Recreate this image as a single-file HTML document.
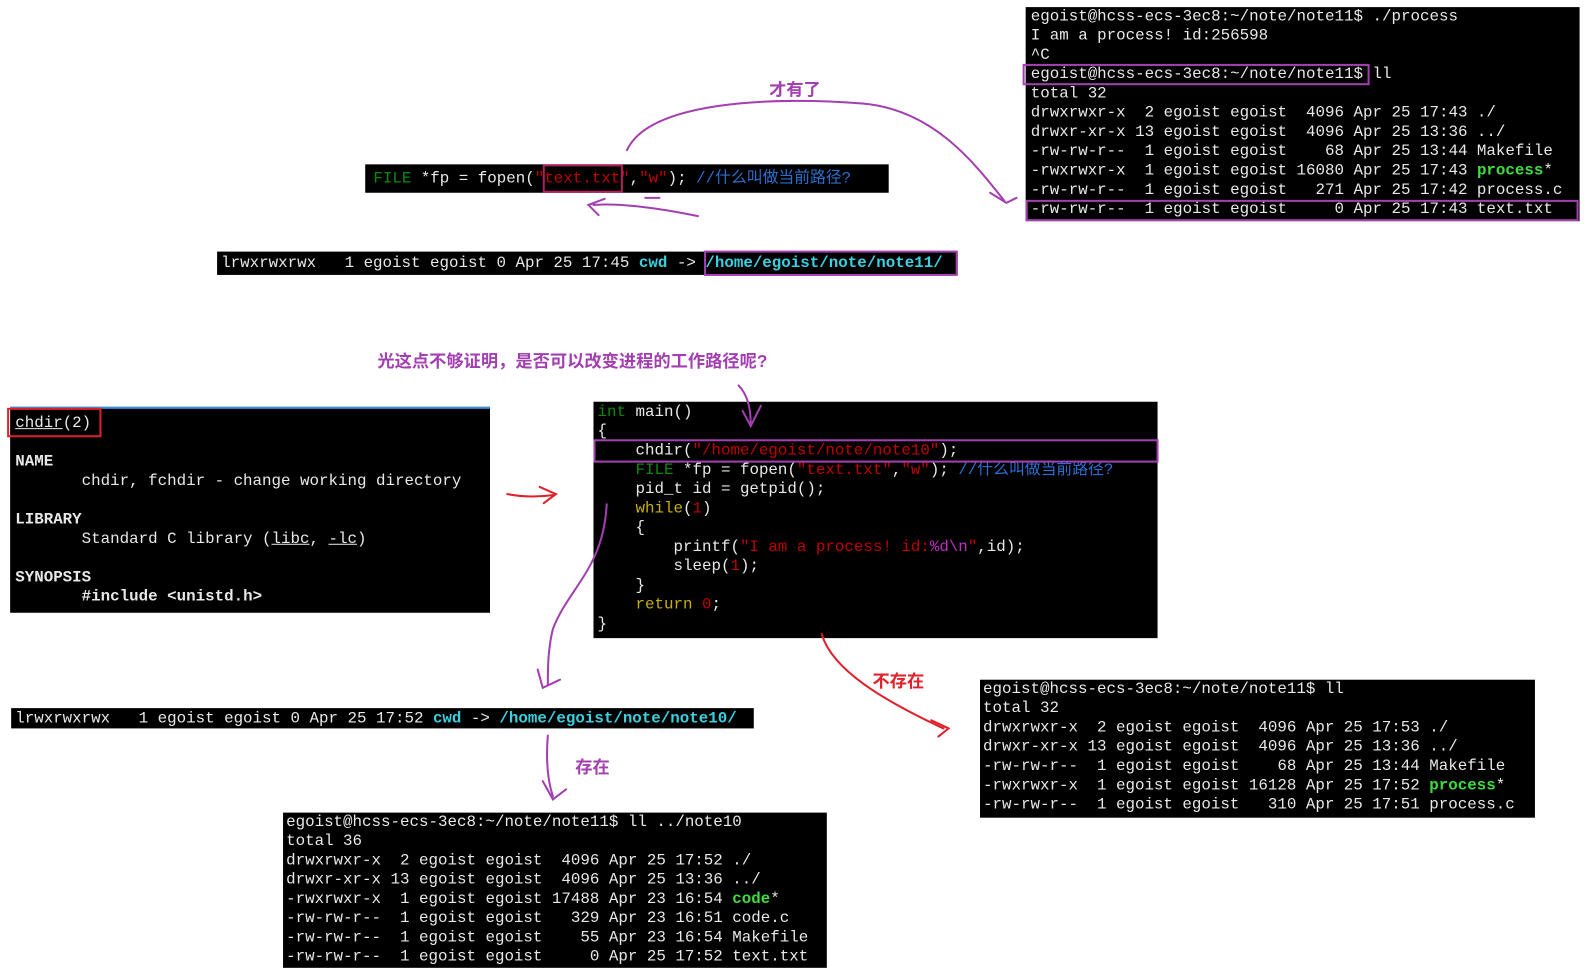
<!DOCTYPE html>
<html><head><meta charset="utf-8"><style>
html,body{margin:0;padding:0;background:#fff;width:1590px;height:973px;overflow:hidden}
#w{position:absolute;left:0;top:0;width:1560px;height:955px;transform:scale(1.0145);transform-origin:0 0}
.t{position:absolute;background:#000;color:#e8e8e8;font-family:"Liberation Mono","Noto Sans CJK SC",monospace;font-size:15.6px;line-height:19px;white-space:pre;box-sizing:border-box}
.b{position:absolute;border:2px solid #a33fb0;box-sizing:border-box}
.r{position:absolute;border:2px solid #e0202a;box-sizing:border-box}
.g{color:#3fdc3f;font-weight:bold}.c{color:#3ad0e0;font-weight:bold}
.gr{color:#0a8a0a}.rd{color:#c00000}.bl{color:#2a6fd0}.y{color:#c8b000}.m{color:#c030c0}
.lab{position:absolute;font-family:"Liberation Sans","Noto Sans CJK SC",sans-serif;font-weight:bold;font-size:17px;white-space:nowrap}
svg{position:absolute;left:0;top:0}
</style></head><body><div id="w">

<div class="t" style="left:1011px;top:7px;width:546px;height:211px;padding:0 0 0 5px">egoist@hcss-ecs-3ec8:~/note/note11$ ./process
I am a process! id:256598
^C
egoist@hcss-ecs-3ec8:~/note/note11$ ll
total 32
drwxrwxr-x  2 egoist egoist  4096 Apr 25 17:43 ./
drwxr-xr-x 13 egoist egoist  4096 Apr 25 13:36 ../
-rw-rw-r--  1 egoist egoist    68 Apr 25 13:44 Makefile
-rwxrwxr-x  1 egoist egoist 16080 Apr 25 17:43 <span class="g">process</span>*
-rw-rw-r--  1 egoist egoist   271 Apr 25 17:42 process.c
-rw-rw-r--  1 egoist egoist     0 Apr 25 17:43 text.txt</div>
<div class="b" style="left:1008px;top:63px;width:342px;height:21px"></div>
<div class="b" style="left:1011px;top:197px;width:545px;height:21px"></div>

<div class="t" style="left:360px;top:162px;width:516px;height:28px;padding:6px 0 0 8px;line-height:17px"><span class="gr">FILE</span> *fp = fopen(<span class="rd">"text.txt"</span>,<span class="rd">"w"</span>); <span class="bl">//什么叫做当前路径?</span></div>
<div class="r" style="left:535px;top:162px;width:79px;height:28px;border-color:#b0205a"></div>

<div class="t" style="left:214px;top:248px;width:730px;height:23px;padding:2px 0 0 4px">lrwxrwxrwx   1 egoist egoist 0 Apr 25 17:45 <span class="c">cwd</span> -&gt; <span class="c">/home/egoist/note/note11/</span></div>
<div class="b" style="left:694px;top:247px;width:250px;height:25px"></div>

<div class="lab" style="left:372px;top:342px;color:#a33fb0">光这点不够证明，是否可以改变进程的工作路径呢?</div>
<div class="lab" style="left:758px;top:74px;color:#a33fb0">才有了</div>
<div class="lab" style="left:860px;top:657px;color:#e0202a">不存在</div>
<div class="lab" style="left:567px;top:742px;color:#a33fb0">存在</div>

<div class="t" style="left:10px;top:401px;width:473px;height:203px;padding:5px 0 0 5px;border-top:2px solid #3a8ee0"><u>chdir</u>(2)

<b>NAME</b>
       chdir, fchdir - change working directory

<b>LIBRARY</b>
       Standard C library (<u>libc</u>, <u>-lc</u>)

<b>SYNOPSIS</b>
       <b>#include &lt;unistd.h&gt;</b></div>
<div class="r" style="left:7px;top:402px;width:93px;height:29px"></div>

<div class="t" style="left:585px;top:396px;width:556px;height:233px;padding:1px 0 0 4px"><span class="gr">int</span> main()
{
    chdir(<span class="rd">"/home/egoist/note/note10"</span>);
    <span class="gr">FILE</span> *fp = fopen(<span class="rd">"text.txt"</span>,<span class="rd">"w"</span>); <span class="bl">//什么叫做当前路径?</span>
    pid_t id = getpid();
    <span class="y">while</span>(<span class="rd">1</span>)
    {
        printf(<span class="rd">"I am a process! id:</span><span class="m">%d\n</span><span class="rd">"</span>,id);
        sleep(<span class="rd">1</span>);
    }
    <span class="y">return</span> <span class="rd">0</span>;
}</div>
<div class="b" style="left:585px;top:433px;width:557px;height:23px"></div>

<div class="t" style="left:11px;top:698px;width:732px;height:20px;padding:1px 0 0 4px;line-height:18px">lrwxrwxrwx   1 egoist egoist 0 Apr 25 17:52 <span class="c">cwd</span> -&gt; <span class="c">/home/egoist/note/note10/</span></div>

<div class="t" style="left:279px;top:801px;width:536px;height:153px;padding:0 0 0 3px">egoist@hcss-ecs-3ec8:~/note/note11$ ll ../note10
total 36
drwxrwxr-x  2 egoist egoist  4096 Apr 25 17:52 ./
drwxr-xr-x 13 egoist egoist  4096 Apr 25 13:36 ../
-rwxrwxr-x  1 egoist egoist 17488 Apr 23 16:54 <span class="g">code</span>*
-rw-rw-r--  1 egoist egoist   329 Apr 23 16:51 code.c
-rw-rw-r--  1 egoist egoist    55 Apr 23 16:54 Makefile
-rw-rw-r--  1 egoist egoist     0 Apr 25 17:52 text.txt</div>

<div class="t" style="left:966px;top:670px;width:547px;height:136px;padding:0 0 0 3px">egoist@hcss-ecs-3ec8:~/note/note11$ ll
total 32
drwxrwxr-x  2 egoist egoist  4096 Apr 25 17:53 ./
drwxr-xr-x 13 egoist egoist  4096 Apr 25 13:36 ../
-rw-rw-r--  1 egoist egoist    68 Apr 25 13:44 Makefile
-rwxrwxr-x  1 egoist egoist 16128 Apr 25 17:52 <span class="g">process</span>*
-rw-rw-r--  1 egoist egoist   310 Apr 25 17:51 process.c</div>

<svg width="1560" height="955" fill="none" stroke-width="2" stroke-linecap="round">
<g stroke="#a33fb0">
<path d="M618 148 C640 100 760 95 850 102 C920 108 960 160 990 198"/>
<path d="M976 190 L992 200 L1002 195"/>
<path d="M688 213 C650 205 610 200 585 202 M596 196 L580 202 L590 212"/>
<path d="M636 195 L650 195"/>
<path d="M728 380 C738 390 740 405 740 418 M732 405 L740 420 L750 400"/>
<path d="M598 497 C595 560 560 580 545 620 C540 640 540 660 540 675 M530 660 L535 678 L552 670"/>
<path d="M540 725 C538 750 540 770 545 785 M535 770 L545 788 L558 778"/>
</g>
<g stroke="#e0202a">
<path d="M500 487 C515 490 530 490 545 488 M532 480 L548 487 L536 496"/>
<path d="M810 625 C820 660 870 690 930 718 M918 710 L935 718 L925 726"/>
</g>
</svg>
</div></body></html>
